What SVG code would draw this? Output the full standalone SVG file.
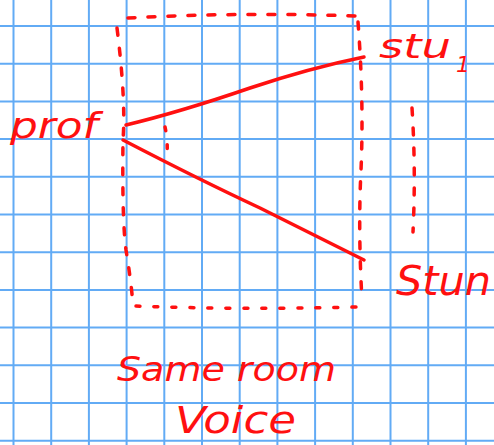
<svg xmlns="http://www.w3.org/2000/svg" width="494" height="445" viewBox="0 0 494 445">
<style>
.grid line{stroke:#62abf5;stroke-width:2}
.ink{fill:none;stroke:#ff1010;stroke-width:3.5;stroke-linecap:round;stroke-linejoin:round}
.dash{stroke-dasharray:7 13}
.dot{stroke-dasharray:4 14}
.lbl{font-family:"DejaVu Sans",sans-serif;fill:#ff1010;font-style:italic}
</style>
<rect width="494" height="445" fill="#ffffff"/>
<g class="grid">
<line x1="13.5" y1="0" x2="13.5" y2="445"/>
<line x1="51.2" y1="0" x2="51.2" y2="445"/>
<line x1="88.9" y1="0" x2="88.9" y2="445"/>
<line x1="126.6" y1="0" x2="126.6" y2="445"/>
<line x1="164.3" y1="0" x2="164.3" y2="445"/>
<line x1="202" y1="0" x2="202" y2="445"/>
<line x1="239.7" y1="0" x2="239.7" y2="445"/>
<line x1="277.4" y1="0" x2="277.4" y2="445"/>
<line x1="315.1" y1="0" x2="315.1" y2="445"/>
<line x1="352.8" y1="0" x2="352.8" y2="445"/>
<line x1="390.5" y1="0" x2="390.5" y2="445"/>
<line x1="428.2" y1="0" x2="428.2" y2="445"/>
<line x1="465.9" y1="0" x2="465.9" y2="445"/>
<line x1="0" y1="26" x2="494" y2="26"/>
<line x1="0" y1="63.7" x2="494" y2="63.7"/>
<line x1="0" y1="101.4" x2="494" y2="101.4"/>
<line x1="0" y1="139.1" x2="494" y2="139.1"/>
<line x1="0" y1="176.8" x2="494" y2="176.8"/>
<line x1="0" y1="214.5" x2="494" y2="214.5"/>
<line x1="0" y1="252.2" x2="494" y2="252.2"/>
<line x1="0" y1="289.9" x2="494" y2="289.9"/>
<line x1="0" y1="327.6" x2="494" y2="327.6"/>
<line x1="0" y1="365.3" x2="494" y2="365.3"/>
<line x1="0" y1="403" x2="494" y2="403"/>
<line x1="0" y1="440.7" x2="494" y2="440.7"/>
</g>
<g id="room">
<path class="ink dash" d="M128 18 Q240 12 356 16"/>
<path class="ink dash" d="M117 28 Q126 100 123 140 Q122 220 126 250 Q131 280 133 305"/>
<path class="ink dot" d="M136 306 Q240 310 356 307"/>
<path class="ink dash" d="M358 22 Q364 100 361 170 Q358 230 362 300"/>
<path class="ink dash" d="M412 108 Q416 170 413 232"/>
<path class="ink dot" d="M165 127 Q168 140 167 157"/>
</g>
<g id="connectors">
<path class="ink" d="M126 125 Q180 112 250 88 Q310 68 364 57"/>
<path class="ink" d="M123 140 Q200 180 260 208 Q320 238 364 260"/>
</g>
<g id="prof"><text class="lbl" x="10" y="138" font-size="36" textLength="88" lengthAdjust="spacingAndGlyphs">prof</text></g>
<g id="stu1"><text class="lbl" x="379" y="58" font-size="34" textLength="72" lengthAdjust="spacingAndGlyphs">stu</text><text class="lbl" x="456" y="72" font-size="22">1</text></g>
<g id="stun"><text class="lbl" x="396" y="295" font-size="40" textLength="95" lengthAdjust="spacingAndGlyphs">Stun</text></g>
<g id="caption"><text class="lbl" x="117" y="381" font-size="34" textLength="219" lengthAdjust="spacingAndGlyphs">Same room</text>
<text class="lbl" x="175" y="433" font-size="38" textLength="121" lengthAdjust="spacingAndGlyphs">Voice</text></g>
</svg>
